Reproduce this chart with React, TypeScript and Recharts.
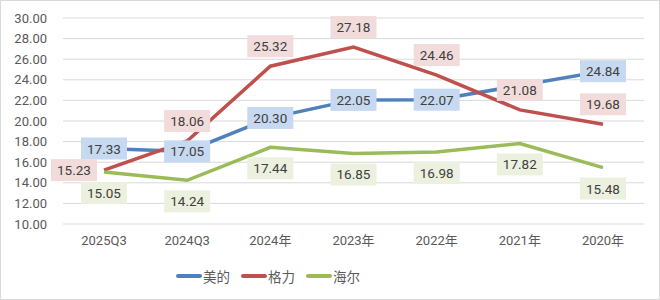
import { CartesianGrid, Legend, Line, LineChart, XAxis, YAxis } from "recharts";

const categories = ["2025Q3", "2024Q3", "2024年", "2023年", "2022年", "2021年", "2020年"];
const midea = [17.33, 17.05, 20.3, 22.05, 22.07, 23.45, 24.84];
const gree = [15.23, 18.06, 25.32, 27.18, 24.46, 21.08, 19.68];
const haier = [15.05, 14.24, 17.44, 16.85, 16.98, 17.82, 15.48];
const yTicks = [10, 12, 14, 16, 18, 20, 22, 24, 26, 28, 30];

const data = categories.map((name, i) => ({
  name,
  midea: midea[i],
  gree: gree[i],
  haier: haier[i],
}));

const series = [
  { key: "midea", name: "美的", color: "#4f81bd", box: "#c6d9f1" },
  { key: "gree", name: "格力", color: "#c0504d", box: "#f2dcdb" },
  { key: "haier", name: "海尔", color: "#9bbb59", box: "#ebf1de" },
];

const FONT = "Roboto, 'Noto Sans CJK SC', sans-serif";

type Place = { dx: number; dy: number } | null;

function makeLabel(box: string, place: (i: number) => Place) {
  return function BoxLabel(props: any) {
    const { x, y, value, index } = props;
    if (x == null || y == null) return null;
    const p = place(index);
    // the reference hides this label behind its neighbour
    if (!p) return null;
    const cx = x + p.dx;
    const cy = y + p.dy;
    const w = 46;
    const h = 22;
    return (
      <g>
        <rect x={cx - w / 2} y={cy - h / 2} width={w} height={h} fill={box} />
        <text
          x={cx}
          y={cy}
          textAnchor="middle"
          dominantBaseline="central"
          fontSize={13.5}
          fontFamily={FONT}
          fill="#404040"
        >
          {Number(value).toFixed(2)}
        </text>
      </g>
    );
  };
}

const placements: Record<string, (i: number) => Place> = {
  midea: (i) => (i === 5 ? null : { dx: 0, dy: 0 }),
  gree: (i) => (i === 0 ? { dx: -30, dy: 0 } : { dx: 0, dy: -20 }),
  haier: () => ({ dx: 0, dy: 21 }),
};

function LegendContent() {
  return (
    <div
      style={{
        display: "flex",
        justifyContent: "flex-start",
        paddingLeft: 163,
        paddingTop: 10,
        gap: 11,
        fontFamily: FONT,
        fontSize: 13.5,
        color: "#595959",
      }}
    >
      {series.map((s) => (
        <div key={s.key} style={{ display: "flex", alignItems: "center", gap: 1 }}>
          <span style={{ display: "inline-block", width: 26, height: 4, borderRadius: 2, background: s.color }} />
          <span>{s.name}</span>
        </div>
      ))}
    </div>
  );
}

export default function App() {
  return (
    <div style={{ width: 658, height: 298, border: "1px solid #d9d9d9", background: "#fff", position: "relative" }}>
      <style>{`body{margin:0}`}</style>
      <div style={{ position: "absolute", left: -1, top: -1 }}>
        <LineChart width={660} height={300} data={data} margin={{ top: 18, right: 16, bottom: 10, left: 13 }}>
          <CartesianGrid stroke="#d9d9d9" vertical={false} />
          <XAxis
            dataKey="name"
            height={32}
            padding={{ left: 41, right: 41 }}
            interval={0}
            axisLine={false}
            tickLine={false}
            tickSize={0}
            tickMargin={12}
            tick={{ fontSize: 13, fontFamily: FONT, fill: "#595959" }}
          />
          <YAxis
            domain={[10, 30]}
            ticks={yTicks}
            interval={0}
            width={50}
            axisLine={false}
            tickLine={false}
            tickSize={0}
            tickMargin={16}
            tickFormatter={(v: number) => v.toFixed(2)}
            tick={{ fontSize: 13, fontFamily: FONT, fill: "#595959" }}
          />
          <Legend verticalAlign="bottom" height={34} content={<LegendContent />} />
          {series.map((s) => (
            <Line
              key={s.key}
              dataKey={s.key}
              name={s.name}
              type="linear"
              stroke={s.color}
              strokeWidth={3.5}
              dot={false}
              activeDot={false}
              isAnimationActive={false}
              label={makeLabel(s.box, placements[s.key])}
            />
          ))}
        </LineChart>
      </div>
    </div>
  );
}
